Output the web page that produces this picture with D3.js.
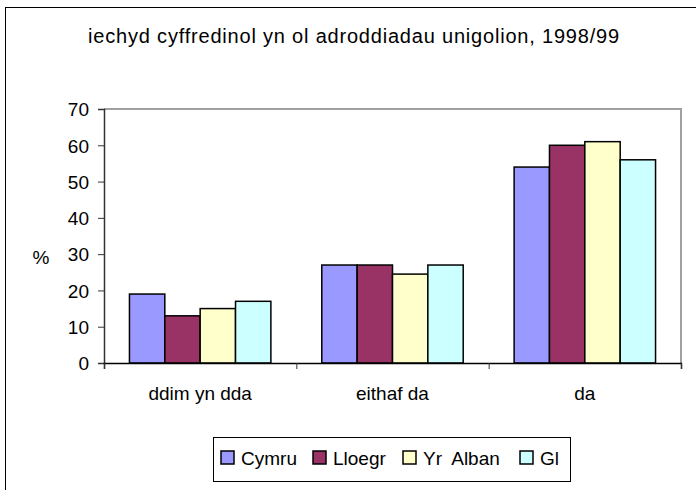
<!DOCTYPE html>
<html>
<head>
<meta charset="utf-8">
<script src="https://cdn.jsdelivr.net/npm/d3@7"></script>
<style>
  body { margin: 0; background: #fff; }
  text { font-family: "Liberation Sans", Arial, sans-serif; fill: #000; }
</style>
</head>
<body>
<svg id="chart" width="696" height="490"></svg>
<script>
// data
const categories = ['ddim yn dda', 'eithaf da', 'da'];
const seriesNames = ['Cymru', 'Lloegr', 'Yr Alban', 'Gl'];
const seriesColors = ['#9999ff', '#993366', '#ffffcc', '#ccffff'];
const cymru = [19, 27, 54];
const lloegr = [13, 27, 60];
const yrAlban = [15, 24.5, 61];
const gl = [17, 27, 56];
const yTicks = [0, 10, 20, 30, 40, 50, 60, 70];

const seriesValues = [cymru, lloegr, yrAlban, gl];

const svg = d3.select('#chart');
const plot = { left: 104, top: 109, right: 681, bottom: 363 };

// outer chart frame (runs off the right and bottom of the picture)
svg.append('rect')
  .attr('x', 5.5).attr('y', 7.5)
  .attr('width', 720).attr('height', 520)
  .attr('fill', 'none').attr('stroke', '#000');

svg.append('text')
  .attr('x', 354).attr('y', 43)
  .attr('text-anchor', 'middle')
  .style('font-size', '20px')
  .style('letter-spacing', '0.8px')
  .text('iechyd cyffredinol yn ol adroddiadau unigolion, 1998/99');

const x0 = d3.scaleBand().domain(categories).range([plot.left, plot.right]);
const x1 = d3.scaleBand().domain(seriesNames)
  .range([0, x0.bandwidth()])
  .paddingOuter(0.72);
const y = d3.scaleLinear().domain([0, 70]).range([plot.bottom, plot.top]);

// plot border (top + right)
svg.append('path')
  .attr('d', `M${plot.left},${plot.top}H${plot.right}V${plot.bottom}`)
  .attr('fill', 'none').attr('stroke', '#a0a0a0').attr('stroke-width', 2);

// bars
const groups = svg.append('g').selectAll('g')
  .data(categories)
  .join('g')
  .attr('transform', d => `translate(${x0(d)},0)`);

groups.selectAll('rect')
  .data((d, i) => seriesNames.map((s, j) => ({ s, j, v: seriesValues[j][i] })))
  .join('rect')
  .attr('x', d => x1(d.s))
  .attr('width', x1.bandwidth())
  .attr('y', d => y(d.v))
  .attr('height', d => y(0) - y(d.v))
  .attr('fill', d => seriesColors[d.j])
  .attr('stroke', '#000')
  .attr('stroke-width', 1.5);

// y axis
const yAxis = svg.append('g')
  .attr('transform', `translate(${plot.left},0)`)
  .call(d3.axisLeft(y).tickValues(yTicks).tickSize(6).tickPadding(9));
yAxis.select('.domain').attr('stroke', '#333').attr('stroke-width', 1.5);
yAxis.selectAll('.tick line').attr('stroke', '#333');
yAxis.selectAll('.tick text').style('font-size', '19px').attr('dy', '0.36em');

svg.append('text')
  .attr('x', 41).attr('y', 264)
  .attr('text-anchor', 'middle')
  .style('font-size', '19px')
  .text('%');

// x axis: ticks at category boundaries, labels centred
const xb = d3.scaleLinear().domain([0, 3]).range([plot.left, plot.right]);
const xAxis = svg.append('g')
  .attr('transform', `translate(0,${plot.bottom})`)
  .call(d3.axisBottom(xb).ticks(3).tickSize(6).tickFormat(''));
xAxis.select('.domain').attr('stroke', '#000').attr('stroke-width', 1.5);
xAxis.selectAll('.tick line').attr('stroke', '#333');

const xLabels = svg.append('g')
  .attr('transform', `translate(0,${plot.bottom})`)
  .call(d3.axisBottom(x0).tickSize(0).tickPadding(24));
xLabels.select('.domain').remove();
xLabels.selectAll('.tick text').style('font-size', '19px');

// legend
const legend = svg.append('g');
legend.append('rect')
  .attr('x', 213.5).attr('y', 437.5)
  .attr('width', 357).attr('height', 44)
  .attr('fill', '#fff').attr('stroke', '#000');

const legendX = [221, 313, 403, 520];
seriesNames.forEach((name, i) => {
  legend.append('rect')
    .attr('x', legendX[i]).attr('y', 451)
    .attr('width', 13).attr('height', 13)
    .attr('fill', seriesColors[i])
    .attr('stroke', '#000').attr('stroke-width', 1.5);
  legend.append('text')
    .attr('x', legendX[i] + 20).attr('y', 465)
    .style('font-size', '19px')
    .style('word-spacing', '5px')
    .text(name);
});
</script>
</body>
</html>
